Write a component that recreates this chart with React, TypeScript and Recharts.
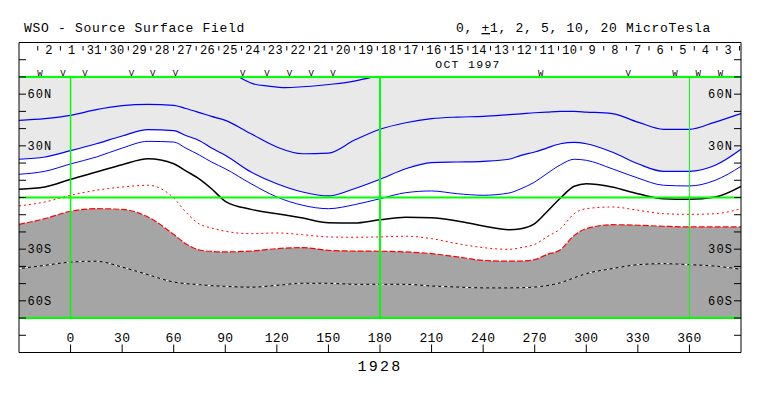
import React from 'react';
import { ComposedChart, Line, Area, XAxis, YAxis, ReferenceLine, Scatter } from 'recharts';

// Carrington longitude sample points (degrees)
const LONS = [-30, -15, 0, 15, 30, 45, 60, 67, 75, 82, 90, 105, 120, 135, 150, 165, 180, 195, 210, 225, 240, 255, 262, 270, 277, 285, 293, 300, 315, 330, 345, 360, 375, 390];
// contour latitudes (degrees) per level, microtesla
const POS5 = [44.8, 45.8, 47.7, 51.0, 53.3, 54.1, 53.5, 51.7, 49.3, 47.1, 44.8, 37.0, 29.3, 25.4, 25.8, 33.2, 39.6, 43.4, 45.8, 46.7, 47.1, 48.1, 48.6, 49.2, 49.6, 50.0, 50.0, 49.6, 48.7, 43.8, 39.6, 39.6, 43.8, 48.7];
const POS2 = [22.2, 23.5, 27.2, 31.2, 35.7, 39.4, 38.8, 36.0, 33.0, 28.7, 24.5, 14.8, 8.0, 3.2, 0.9, 5.1, 10.6, 16.7, 20.2, 20.6, 21.0, 22.2, 24.5, 26.4, 28.7, 31.2, 32.0, 31.2, 26.4, 19.6, 15.2, 15.2, 18.7, 28.0];
const POS1 = [13.5, 15.2, 19.5, 23.5, 28.7, 32.6, 32.2, 28.7, 24.6, 20.6, 16.7, 8.0, 0.3, -4.5, -6.5, -4.2, -0.7, 2.8, 3.8, 2.2, 1.3, 2.6, 5.1, 9.0, 13.8, 19.0, 22.2, 21.6, 16.7, 11.3, 7.1, 6.7, 10.0, 18.1];
const NEUTRAL = [4.8, 6.1, 10.6, 14.8, 19.0, 22.5, 19.6, 15.5, 10.7, 5.1, -2.2, -6.9, -9.4, -11.9, -14.6, -14.8, -12.9, -11.5, -11.7, -13.6, -16.5, -18.7, -18.1, -15.2, -8.4, -0.3, 6.5, 8.0, 6.1, 2.2, -0.7, -1.0, 0.3, 6.5];
const NEG1 = [-4.9, -2.6, 1.3, 4.2, 6.1, 7.1, -0.3, -8.4, -15.4, -17.7, -19.6, -21.0, -20.6, -21.6, -22.9, -23.1, -22.9, -22.5, -23.9, -26.8, -29.1, -30.1, -29.1, -27.2, -22.9, -18.1, -9.4, -6.5, -5.5, -7.4, -9.4, -9.8, -9.4, -6.5];
const NEG2 = [-15.6, -12.3, -8.0, -6.5, -6.9, -11.3, -21.5, -26.8, -30.5, -31.3, -31.6, -31.1, -29.7, -29.1, -30.7, -31.1, -31.2, -31.6, -32.6, -34.5, -36.5, -37.0, -36.9, -36.1, -33.1, -30.3, -22.0, -18.1, -15.8, -16.1, -16.7, -17.1, -17.1, -17.1];
const NEG5 = [-41.3, -39.4, -37.5, -37.0, -40.4, -44.8, -49.1, -50.0, -50.6, -51.2, -51.6, -52.1, -51.0, -49.8, -49.8, -50.4, -50.4, -50.4, -51.4, -52.0, -52.5, -52.5, -52.4, -52.0, -51.2, -49.5, -46.6, -44.2, -41.3, -39.0, -38.4, -39.0, -39.8, -41.7];
const POS10_LONS = [98, 106, 115, 125, 135, 153, 165, 176];
const POS10 = [70, 66.1, 64.7, 63.8, 64.3, 65.9, 67.6, 70];

const DAY_LABELS = ['2', '1', '31', '30', '29', '28', '27', '26', '25', '24', '23', '22', '21', '20', '19', '18', '17', '16', '15', '14', '13', '12', '11', '10', '9', '8', '7', '6', '5', '4', '3'];
const FIRST_DAY_LON = -19.1;
const DAY_STEP = 13.17;

const MARKER_LONS = [-17.8, -4.5, 8.3, 35.4, 47.8, 61.0, 100.1, 114.3, 127.4, 140.0, 152.7, 273.5, 324.4, 351.6, 365.1, 378.1];
const MARKER_SYMS = ['W', 'V', 'V', 'V', 'V', 'V', 'V', 'V', 'V', 'V', 'V', 'W', 'V', 'W', 'W', 'W'];
const EARTH_LAT = 4.5;

const X_TICKS = [0, 30, 60, 90, 120, 150, 180, 210, 240, 270, 300, 330, 360];
const LAT_TICKS = [-80, -70, -60, -50, -40, -30, -20, -10, 0, 10, 20, 30, 40, 50, 60, 70, 80];
const LAT_LABELS: Record<string, string> = { '60': '60N', '30': '30N', '-30': '30S', '-60': '60S' };

const MARK_ROW_LAT = 72.4;
const FONT = '"Liberation Mono", "DejaVu Sans Mono", monospace';

const data = LONS.map((lon, i) => ({
  lon,
  p5: POS5[i],
  p2: POS2[i],
  p1: POS1[i],
  n0: NEUTRAL[i],
  m1: NEG1[i],
  m2: NEG2[i],
  m5: NEG5[i],
  light: [POS2[i], 70],
  dark: [-70, NEG2[i]],
}));
const pos10Data = POS10_LONS.map((lon, i) => ({ lon, p10: POS10[i] }));
const markerData = MARKER_LONS.map((lon, i) => ({ lon, lat: MARK_ROW_LAT, sym: MARKER_SYMS[i] }));
const earthData = [{ lon: -30, lat: EARTH_LAT }];

const dayTicks: number[] = [];
for (let k = 0; k <= DAY_LABELS.length; k++) {
  dayTicks.push(+(FIRST_DAY_LON + k * DAY_STEP).toFixed(3));
  if (k < DAY_LABELS.length) dayTicks.push(+(FIRST_DAY_LON + (k + 0.5) * DAY_STEP).toFixed(3));
}

const DayTick = (props: any) => {
  const { x, y, index } = props;
  if (index % 2 === 0) {
    return <line x1={x} x2={x} y1={y + 3.5} y2={y + 8} stroke="#000" strokeWidth={1} />;
  }
  const label = DAY_LABELS[(index - 1) / 2];
  return (
    <text x={x} y={y + 11} textAnchor="middle" fontFamily={FONT} fontSize={12} letterSpacing={0.4} fill="#000">
      {label}
    </text>
  );
};

const BottomTick = (props: any) => {
  const { x, y, payload } = props;
  return (
    <text x={x} y={y} textAnchor="middle" fontFamily={FONT} fontSize={13} letterSpacing={0.3} fill="#000">
      {payload.value}
    </text>
  );
};

const LeftTick = (props: any) => {
  const { x, y, payload } = props;
  const label = LAT_LABELS[String(payload.value)];
  if (!label) return null;
  return (
    <text x={x} y={y + 4} textAnchor="start" fontFamily={FONT} fontSize={12} letterSpacing={1.1} fill="#000">
      {label}
    </text>
  );
};

const RightTick = (props: any) => {
  const { x, y, payload } = props;
  const label = LAT_LABELS[String(payload.value)];
  if (!label) return null;
  return (
    <text x={x} y={y + 4} textAnchor="end" fontFamily={FONT} fontSize={12} letterSpacing={1.1} fill="#000">
      {label}
    </text>
  );
};

const MarkerShape = (props: any) => {
  const { cx, cy, payload } = props;
  return (
    <text x={cx} y={cy + 3.5} textAnchor="middle" fontFamily={FONT} fontSize={9} fill="#000">
      {payload.sym}
    </text>
  );
};

const EarthShape = (props: any) => {
  const { cx, cy } = props;
  return <polyline points={`${cx - 4},${cy - 2.5} ${cx - 1},${cy} ${cx - 4},${cy + 2.5}`} fill="none" stroke="#00ff00" strokeWidth={1} />;
};

const GREEN = '#00ff00';

export default function App() {
  return (
    <div style={{ position: 'absolute', left: 0, top: 0, width: 763, height: 396, background: '#fff' }}>
      <ComposedChart
        width={763}
        height={396}
        data={data}
        margin={{ top: 42.5, right: 22, bottom: 43.5, left: 19 }}
      >
        <XAxis
          dataKey="lon"
          type="number"
          domain={[-30, 390]}
          allowDataOverflow
          ticks={X_TICKS}
          interval={0}
          mirror
          tickSize={8}
          tickMargin={2.2}
          axisLine={{ stroke: '#000' }}
          tickLine={{ stroke: '#000' }}
          tick={<BottomTick />}
          height={30}
        />
        <XAxis
          xAxisId="top"
          dataKey="lon"
          orientation="top"
          type="number"
          domain={[-30, 390]}
          allowDataOverflow
          ticks={dayTicks}
          interval={0}
          mirror
          tickSize={0}
          tickMargin={0}
          tickLine={false}
          axisLine={{ stroke: '#000' }}
          tick={<DayTick />}
          height={30}
        />
        <YAxis
          type="number"
          domain={[-90, 90]}
          allowDataOverflow
          ticks={LAT_TICKS}
          interval={0}
          mirror
          width={40}
          tickSize={7}
          tickMargin={1.5}
          axisLine={{ stroke: '#000' }}
          tickLine={{ stroke: '#000' }}
          tick={<LeftTick />}
        />
        <YAxis
          yAxisId="right"
          orientation="right"
          type="number"
          domain={[-90, 90]}
          allowDataOverflow
          ticks={LAT_TICKS}
          interval={0}
          mirror
          width={40}
          tickSize={7}
          tickMargin={1}
          axisLine={{ stroke: '#000' }}
          tickLine={{ stroke: '#000' }}
          tick={<RightTick />}
        />

        <Area dataKey="light" type="monotone" fill="#e9e9e9" fillOpacity={1} stroke="none" isAnimationActive={false} activeDot={false} />
        <Area dataKey="dark" type="monotone" fill="#a5a5a5" fillOpacity={1} stroke="none" isAnimationActive={false} activeDot={false} />

        <Line dataKey="p10" data={pos10Data} type="monotone" stroke="#0000ff" strokeWidth={1.2} dot={false} activeDot={false} isAnimationActive={false} />
        <Line dataKey="p5" type="monotone" stroke="#0000ff" strokeWidth={1.2} dot={false} activeDot={false} isAnimationActive={false} />
        <Line dataKey="p2" type="monotone" stroke="#0000ff" strokeWidth={1.2} dot={false} activeDot={false} isAnimationActive={false} />
        <Line dataKey="p1" type="monotone" stroke="#0000ff" strokeWidth={1} dot={false} activeDot={false} isAnimationActive={false} />
        <Line dataKey="n0" type="monotone" stroke="#000000" strokeWidth={1.5} dot={false} activeDot={false} isAnimationActive={false} />
        <Line dataKey="m1" type="monotone" stroke="#ff0000" strokeWidth={1} strokeDasharray="2 3" dot={false} activeDot={false} isAnimationActive={false} />
        <Line dataKey="m2" type="monotone" stroke="#ff0000" strokeWidth={1.2} strokeDasharray="6 2" dot={false} activeDot={false} isAnimationActive={false} />
        <Line dataKey="m5" type="monotone" stroke="#000000" strokeWidth={1} dot={false} activeDot={false} isAnimationActive={false} />
        <Line dataKey="m5" type="monotone" stroke="#ffffff" strokeWidth={1} strokeDasharray="3 3" dot={false} activeDot={false} isAnimationActive={false} />

        <ReferenceLine y={70} stroke={GREEN} strokeWidth={2} />
        <ReferenceLine y={0} stroke={GREEN} strokeWidth={2} />
        <ReferenceLine y={-70} stroke={GREEN} strokeWidth={2} />
        <ReferenceLine segment={[{ x: 0, y: -70 }, { x: 0, y: 70 }]} stroke={GREEN} strokeWidth={1.5} />
        <ReferenceLine segment={[{ x: 180, y: -70 }, { x: 180, y: 70 }]} stroke={GREEN} strokeWidth={2} />
        <ReferenceLine segment={[{ x: 360, y: -70 }, { x: 360, y: 70 }]} stroke={GREEN} strokeWidth={1} />

        <Scatter data={markerData} dataKey="lat" shape={<MarkerShape />} isAnimationActive={false} />
        <Scatter data={earthData} dataKey="lat" shape={<EarthShape />} isAnimationActive={false} />
      </ComposedChart>
      <svg width={763} height={396} style={{ position: 'absolute', left: 0, top: 0, pointerEvents: 'none' }}>
        <text x={24} y={32} fontFamily={FONT} fontSize={13} letterSpacing={0.7} fill="#000">WSO - Source Surface Field</text>
        <text x={456} y={32} fontFamily={FONT} fontSize={13} letterSpacing={0.7} fill="#000">
          0, <tspan textDecoration="underline">+</tspan>1, 2, 5, 10, 20 MicroTesla
        </text>
        <text x={468} y={67.5} textAnchor="middle" fontFamily={FONT} fontSize={11.5} letterSpacing={1.3} fill="#000">OCT 1997</text>
        <text x={380} y={371} textAnchor="middle" fontFamily={FONT} fontSize={15} letterSpacing={2.2} fill="#000">1928</text>
      </svg>
    </div>
  );
}
